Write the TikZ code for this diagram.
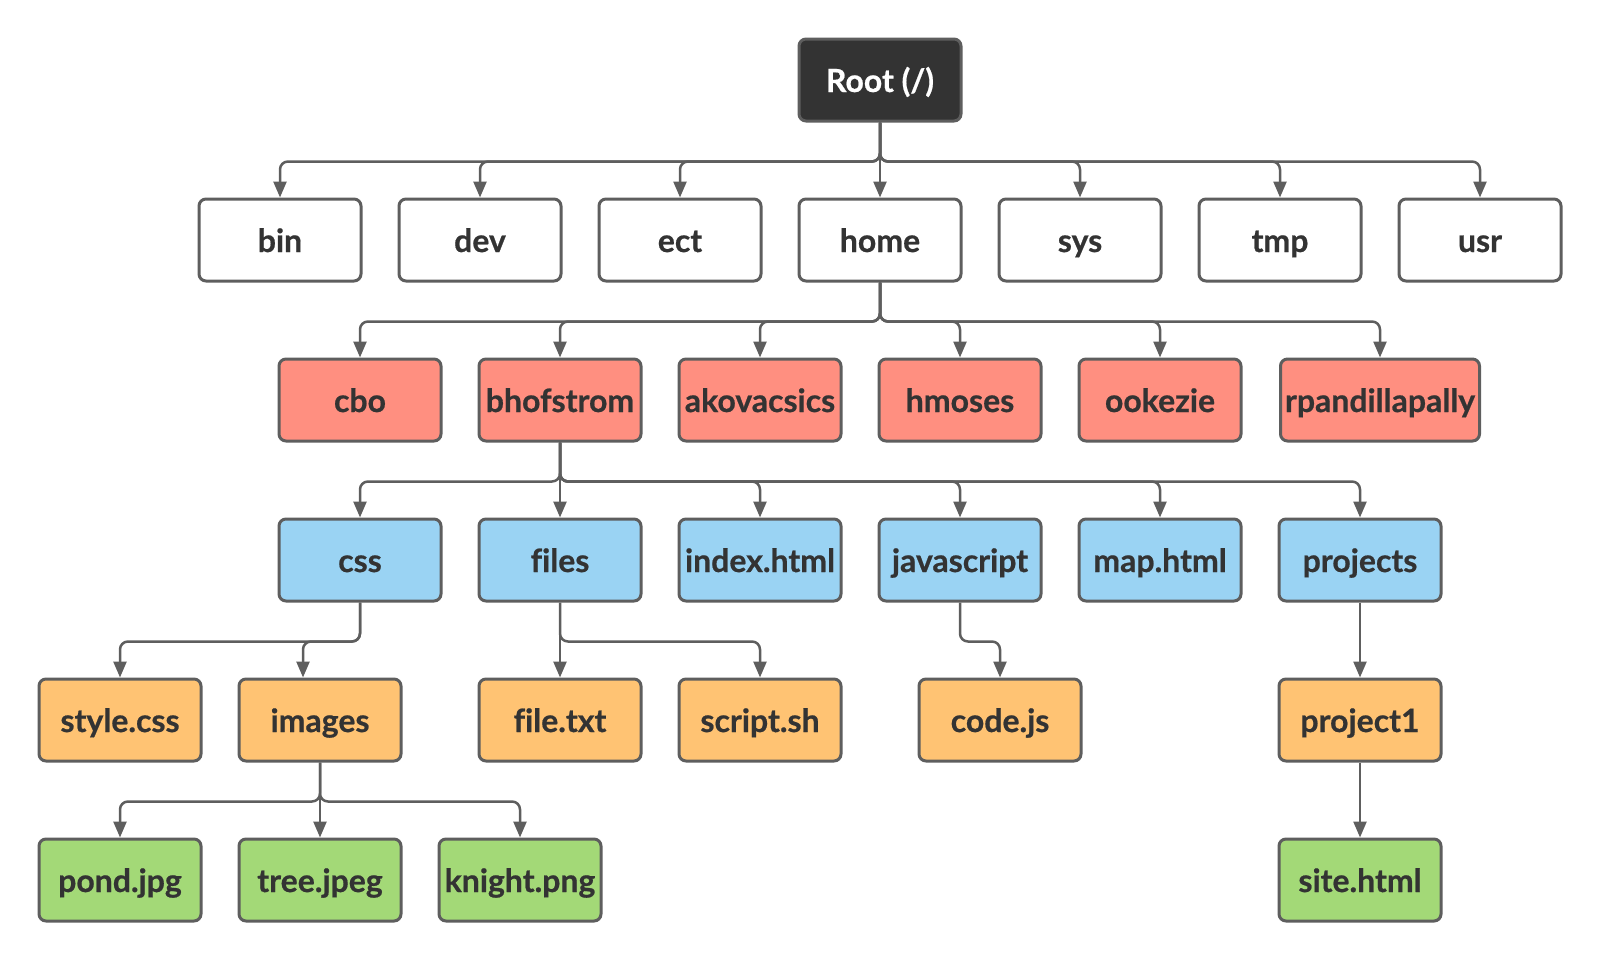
\documentclass[tikz,border=0pt]{standalone}
\usepackage{fontspec}
\setmainfont{Lato}[Ligatures=NoCommon, BoldFeatures={FakeBold=0.6}]
\usetikzlibrary{arrows.meta,positioning,calc}
\definecolor{rootgray}{HTML}{333333}
\definecolor{linegray}{HTML}{5E5E5E}
\definecolor{textgray}{HTML}{333333}
\definecolor{usersalmon}{HTML}{FF8F80}
\definecolor{siteblue}{HTML}{9AD3F3}
\definecolor{fileorange}{HTML}{FFC373}
\definecolor{leafgreen}{HTML}{A3D977}
\tikzset{
  box/.style={draw=linegray, line width=1.5pt, rounded corners=3.5pt, minimum width=81pt, minimum height=41pt, inner sep=2pt, text height=14pt, text depth=2pt, font=\fontsize{16}{20}\selectfont\bfseries, text=textgray},
  rootbox/.style={box, fill=rootgray, text=white},
  dirbox/.style={box, fill=white},
  userbox/.style={box, fill=usersalmon},
  sitebox/.style={box, fill=siteblue},
  filebox/.style={box, fill=fileorange},
  leafbox/.style={box, fill=leafgreen},
  link/.style={draw=linegray, line width=1.25pt, rounded corners=4pt, -{Triangle[length=8pt,width=6.5pt]}}
}

\begin{document}
\begin{tikzpicture}[x=0.5pt,y=-0.5pt]
\useasboundingbox (0,0) rectangle (1600,960);
% root and top level
\node (root) at (880,80) [rootbox] {Root (/)};
\node (bin) at (280,240) [dirbox] {bin};
\node (dev) at (480,240) [dirbox] {dev};
\node (ect) at (680,240) [dirbox] {ect};
\node (home) at (880,240) [dirbox] {home};
\node (sys) at (1080,240) [dirbox] {sys};
\node (tmp) at (1280,240) [dirbox] {tmp};
\node (usr) at (1480,240) [dirbox] {usr};
% users
\node (cbo) at (360,400) [userbox] {cbo};
\node (bhof) at (560,400) [userbox] {bhofstrom};
\node (akov) at (760,400) [userbox] {akovacsics};
\node (hmoses) at (960,400) [userbox] {hmoses};
\node (ookezie) at (1160,400) [userbox] {ookezie};
\node (rpand) at (1380,400) [userbox, minimum width=99.5pt] {rpandillapally};
% site folders
\node (css) at (360,560) [sitebox] {css};
\node (files) at (560,560) [sitebox] {files};
\node (index) at (760,560) [sitebox] {index.html};
\node (js) at (960,560) [sitebox] {javascript};
\node (map) at (1160,560) [sitebox] {map.html};
\node (projects) at (1360,560) [sitebox] {projects};
\node (stylecss) at (120,720) [filebox] {style.css};
\node (images) at (320,720) [filebox] {images};
\node (filetxt) at (560,720) [filebox] {file.txt};
\node (scriptsh) at (760,720) [filebox] {script.sh};
\node (codejs) at (1000,720) [filebox] {code.js};
\node (project1) at (1360,720) [filebox] {project1};
\node (pond) at (120,880) [leafbox] {pond.jpg};
\node (tree) at (320,880) [leafbox] {tree.jpeg};
\node (knight) at (520,880) [leafbox] {knight.png};
\node (site) at (1360,880) [leafbox] {site.html};
% links
\draw[link] (root.south) -- ++(0,39) -| (bin.north);
\draw[link] (root.south) -- ++(0,39) -| (dev.north);
\draw[link] (root.south) -- ++(0,39) -| (ect.north);
\draw[link] (root.south) -- (home.north);
\draw[link] (root.south) -- ++(0,39) -| (sys.north);
\draw[link] (root.south) -- ++(0,39) -| (tmp.north);
\draw[link] (root.south) -- ++(0,39) -| (usr.north);
\draw[link] (home.south) -- ++(0,39) -| (cbo.north);
\draw[link] (home.south) -- ++(0,39) -| (bhof.north);
\draw[link] (home.south) -- ++(0,39) -| (akov.north);
\draw[link] (home.south) -- ++(0,39) -| (hmoses.north);
\draw[link] (home.south) -- ++(0,39) -| (ookezie.north);
\draw[link] (home.south) -- ++(0,39) -| (rpand.north);
\draw[link] (bhof.south) -- ++(0,39) -| (css.north);
\draw[link] (bhof.south) -- (files.north);
\draw[link] (bhof.south) -- ++(0,39) -| (index.north);
\draw[link] (bhof.south) -- ++(0,39) -| (js.north);
\draw[link] (bhof.south) -- ++(0,39) -| (map.north);
\draw[link] (bhof.south) -- ++(0,39) -| (projects.north);
\draw[link] (css.south) -- ++(0,39) -| (stylecss.north);
\draw[link] (css.south) -- ++(0,39) -| ([xshift=-8.5pt]images.north);
\draw[link] (files.south) -- (filetxt.north);
\draw[link] (files.south) -- ++(0,39) -| (scriptsh.north);
\draw[link] (js.south) -- ++(0,39) -| (codejs.north);
\draw[link] (projects.south) -- (project1.north);
\draw[link] (images.south) -- ++(0,39) -| (pond.north);
\draw[link] (images.south) -- (tree.north);
\draw[link] (images.south) -- ++(0,39) -| (knight.north);
\draw[link] (project1.south) -- (site.north);
\end{tikzpicture}
\end{document}
